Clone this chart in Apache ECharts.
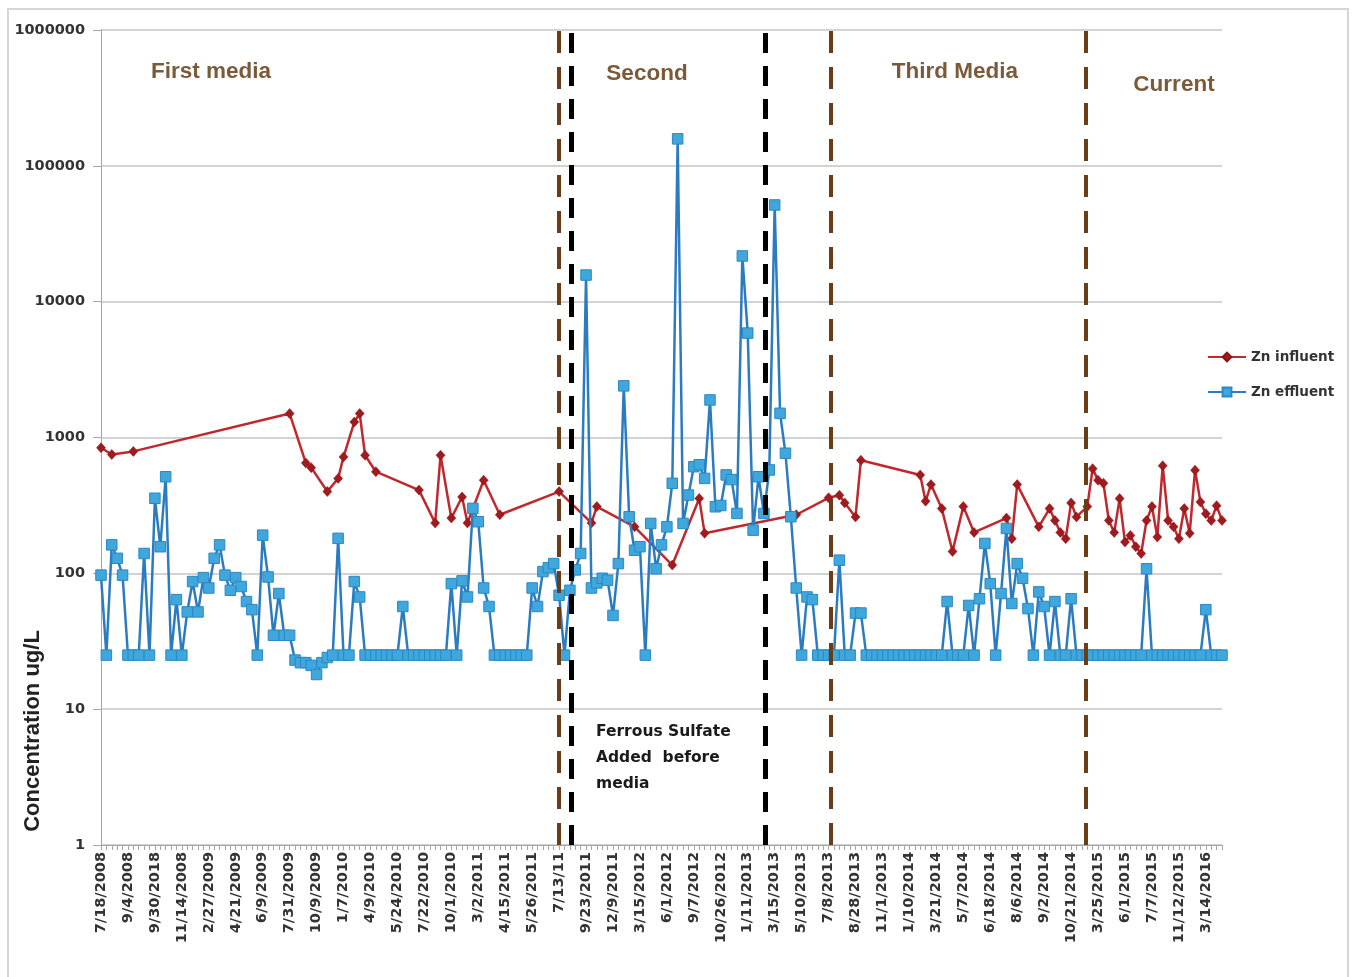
<!DOCTYPE html>
<html>
<head>
<meta charset="utf-8">
<script src="https://cdn.jsdelivr.net/npm/echarts@6.0.0/dist/echarts.min.js"></script>
<style>
  html, body { margin: 0; padding: 0; background: #ffffff; }
  #chart { width: 1355px; height: 977px; }
</style>
</head>
<body>
<div id="chart"></div>
<script>
// Zinc concentrations (ug/L) per sampling event; null = no influent sample that day
const _ = null;

// Date labels shown on the axis (every fifth sampling event)
const dateLabels = [
  '7/18/2008', '9/4/2008', '9/30/2018', '11/14/2008', '2/27/2009', '4/21/2009', '6/9/2009',
  '7/31/2009', '10/9/2009', '1/7/2010', '4/9/2010', '5/24/2010', '7/22/2010', '10/1/2010',
  '3/2/2011', '4/15/2011', '5/26/2011', '7/13/11', '9/23/2011', '12/9/2011', '3/15/2012',
  '6/1/2012', '9/7/2012', '10/26/2012', '1/11/2013', '3/15/2013', '5/10/2013', '7/8/2013',
  '8/28/2013', '11/1/2013', '1/10/2014', '3/21/2014', '5/7/2014', '6/18/2014', '8/6/2014',
  '9/2/2014', '10/21/2014', '3/25/2015', '6/1/2015', '7/7/2015', '11/12/2015', '3/14/2016'
];
const labelStep = 5;

const znInfluent = [
  840, _, 750, _, _, _, 790, _, _, _,
  _, _, _, _, _, _, _, _, _, _,
  _, _, _, _, _, _, _, _, _, _,
  _, _, _, _, _, 1500, _, _, 650, 600,
  _, _, 400, _, 500, 720, _, 1300, 1500, 740,
  _, 560, _, _, _, _, _, _, _, 410,
  _, _, 235, 740, _, 255, _, 365, 235, _,
  _, 485, _, _, 270, _, _, _, _, _,
  _, _, _, _, _, 400, _, _, _, _,
  _, 235, 310, _, _, _, _, _, _, 220,
  _, _, _, _, _, _, 115, _, _, _,
  _, 356, 197, _, _, _, _, _, _, _,
  _, _, _, _, _, _, _, _, _, 270,
  _, _, _, _, _, 360, _, 376, 330, _,
  260, 680, _, _, _, _, _, _, _, _,
  _, _, 530, 340, 450, _, 300, _, 145, _,
  310, _, 200, _, _, _, _, _, 255, 180,
  450, _, _, _, 220, _, 300, 245, 200, 180,
  330, 260, _, 310, 590, 485, 460, 245, 200, 355,
  170, 190, 157, 140, 245, 310, 185, 620, 245, 220,
  180, 300, 197, 575, 335, 275, 245, 315, 245
];

const znEffluent = [
  97, 25, 162, 129, 97, 25, 25, 25, 140, 25,
  357, 157, 514, 25, 64, 25, 52, 87, 52, 93,
  78, 129, 162, 97, 75, 93, 80, 62, 54, 25,
  191, 94, 35, 71, 35, 35, 23, 22, 22, 21,
  18, 22, 24, 25, 181, 25, 25, 87, 67, 25,
  25, 25, 25, 25, 25, 25, 57, 25, 25, 25,
  25, 25, 25, 25, 25, 84, 25, 88, 67, 301,
  240, 78, 57, 25, 25, 25, 25, 25, 25, 25,
  78, 57, 103, 110, 118, 69, 25, 75, 106, 140,
  15700, 78, 85, 92, 89, 49, 118, 2400, 261, 148,
  157, 25, 233, 108, 162, 220, 460, 158000, 233, 377,
  610, 630, 500, 1890, 309, 316, 530, 490, 276, 21700,
  5870, 208, 514, 276, 577, 51500, 1507, 766, 261, 78,
  25, 67, 64, 25, 25, 25, 25, 125, 25, 25,
  51, 51, 25, 25, 25, 25, 25, 25, 25, 25,
  25, 25, 25, 25, 25, 25, 25, 62, 25, 25,
  25, 58, 25, 65, 166, 84, 25, 71, 214, 60,
  118, 92, 55, 25, 73, 57, 25, 62, 25, 25,
  65, 25, 25, 25, 25, 25, 25, 25, 25, 25,
  25, 25, 25, 25, 108, 25, 25, 25, 25, 25,
  25, 25, 25, 25, 25, 54, 25, 25, 25
];

// Treatment phase boundaries, in sampling-event position
const phaseBoundaries = [84.9, 87.3, 123.2, 135.4, 182.8];
const phaseKinds = ['media', 'dose', 'dose', 'media', 'media'];

const sampleCount = znEffluent.length;
const categories = znEffluent.map((v, i) =>
  i % labelStep === 0 ? (dateLabels[i / labelStep] || '') : '');

const boundaryStyle = {
  media: { color: '#6B3D16', width: 4, type: [22, 14], cap: 'butt' },
  dose:  { color: '#000000', width: 5, type: [20, 13], cap: 'butt' }
};

const titleFont = 'bold 22.5px "Liberation Sans"';
const titleColor = '#7A5A38';

function phaseTitle(text, x, y) {
  return {
    type: 'text', x: x, y: y, silent: true, z: 10,
    style: { text: text, font: titleFont, fill: titleColor,
             align: 'center', verticalAlign: 'middle',
             textAlign: 'center', textVerticalAlign: 'middle' }
  };
}

const chart = echarts.init(document.getElementById('chart'), null, { renderer: 'canvas' });

const option = {
  animation: false,
  backgroundColor: '#ffffff',
  grid: { left: 101, right: 133, top: 30, bottom: 132, outerBoundsMode: 'none' },
  legend: {
    data: ['Zn influent', 'Zn effluent'],
    orient: 'vertical',
    left: 1202, top: 345,
    itemWidth: 38, itemHeight: 11, itemGap: 21,
    itemTextGap: 4,
    selectedMode: false,
    textStyle: { fontFamily: 'DejaVu Sans', fontWeight: 'bold', fontSize: 13.5, color: '#333333' }
  },
  xAxis: [{
    type: 'category',
    data: categories,
    boundaryGap: false,
    axisLine: { show: true, lineStyle: { color: '#A6A6A6', width: 1 } },
    axisTick: { show: true, interval: 0, length: 5, lineStyle: { color: '#A6A6A6' } },
    axisLabel: {
      interval: labelStep - 1, rotate: 90, margin: 7,
      fontFamily: 'DejaVu Sans', fontWeight: 'bold', fontSize: 14.5, color: '#333333'
    },
    splitLine: { show: false }
  }, {
    type: 'value', min: 0, max: sampleCount - 1, show: false
  }],
  yAxis: {
    type: 'log', logBase: 10, min: 1, max: 1000000,
    axisLine: { show: true, lineStyle: { color: '#A6A6A6', width: 1 } },
    axisTick: { show: true, length: 8, lineStyle: { color: '#A6A6A6' } },
    axisLabel: {
      formatter: v => String(Math.round(v)), margin: 16,
      fontFamily: 'DejaVu Sans', fontWeight: 'bold', fontSize: 14.5, color: '#333333'
    },
    splitLine: { show: true, lineStyle: { color: '#C4C4C4', width: 1.5 } },
    minorTick: { show: false },
    minorSplitLine: { show: false }
  },
  series: [{
    name: 'Zn influent',
    type: 'line',
    data: znInfluent,
    connectNulls: true,
    symbol: 'diamond',
    symbolSize: [9, 10],
    showAllSymbol: true,
    lineStyle: { color: '#C0282D', width: 2.5 },
    itemStyle: { color: '#A11A1E', borderColor: '#8A1417', borderWidth: 0.5 },
    emphasis: { disabled: true },
    z: 3
  }, {
    name: 'Zn effluent',
    type: 'line',
    data: znEffluent,
    symbol: 'rect',
    symbolSize: 10.5,
    showAllSymbol: true,
    lineStyle: { color: '#2B7BC0', width: 2.5 },
    itemStyle: { color: '#3FA7DB', borderColor: '#2A88C4', borderWidth: 1 },
    emphasis: { disabled: true },
    z: 4
  }, {
    name: 'phases',
    type: 'line',
    xAxisIndex: 1,
    data: [],
    silent: true,
    z: 6,
    markLine: {
      silent: true,
      animation: false,
      symbol: ['none', 'none'],
      label: { show: false },
      emphasis: { disabled: true },
      data: phaseBoundaries.map((pos, k) => ({ xAxis: pos, lineStyle: boundaryStyle[phaseKinds[k]] }))
    }
  }],
  graphic: [
    {
      type: 'rect', silent: true, z: -10,
      shape: { x: 8, y: 9, width: 1340, height: 990 },
      style: { fill: 'none', stroke: '#D6D6D6', lineWidth: 2 }
    },
    phaseTitle('First media', 211, 72),
    phaseTitle('Second', 647, 74),
    phaseTitle('Third Media', 955, 72),
    phaseTitle('Current', 1174, 85),
    {
      type: 'text', x: 596, y: 719, silent: true, z: 10,
      style: {
        text: 'Ferrous Sulfate\nAdded  before\nmedia',
        font: 'bold 15.5px "DejaVu Sans"', fill: '#1A1A1A', lineHeight: 26,
        align: 'left', verticalAlign: 'top', textAlign: 'left', textVerticalAlign: 'top'
      }
    },
    {
      type: 'text', x: 33, y: 731, rotation: Math.PI / 2, silent: true, z: 10,
      style: {
        text: 'Concentration ug/L', font: 'bold 22px "Liberation Sans"', fill: '#222222',
        align: 'center', verticalAlign: 'middle', textAlign: 'center', textVerticalAlign: 'middle'
      }
    }
  ]
};

chart.setOption(option);
</script>
</body>
</html>
